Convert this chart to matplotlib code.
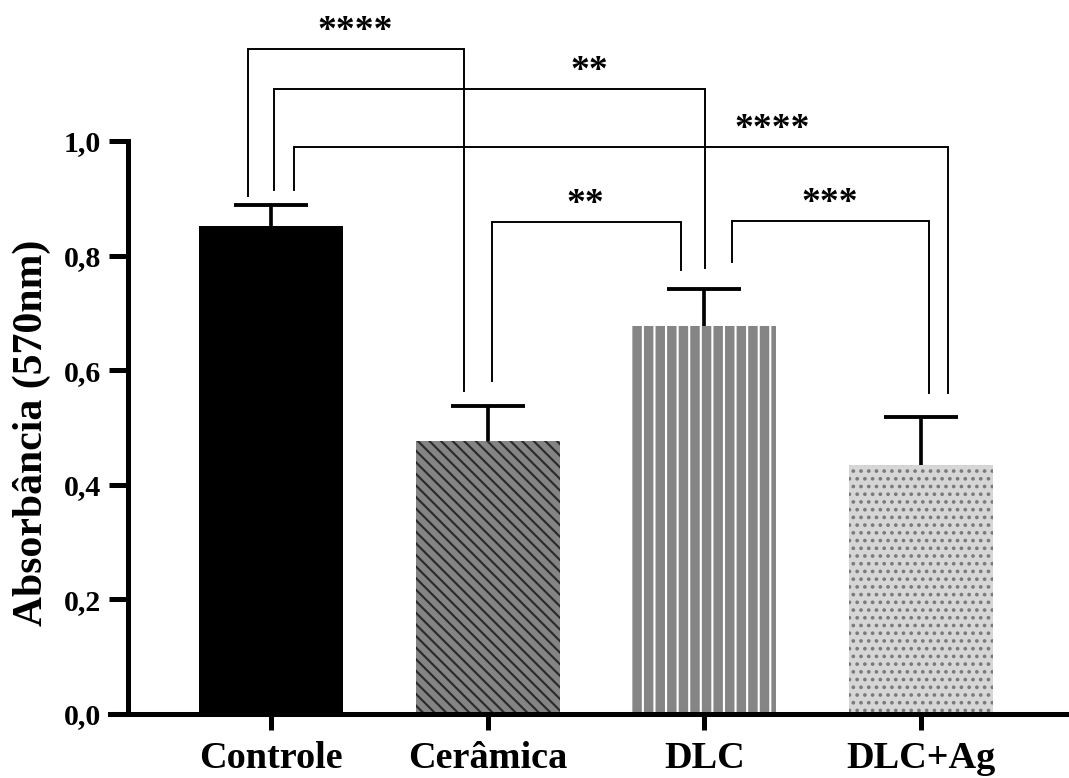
import matplotlib.pyplot as plt
import numpy as np

plt.rcParams['font.family'] = ['Liberation Serif', 'DejaVu Serif']
plt.rcParams['font.weight'] = 'bold'
plt.rcParams['hatch.linewidth'] = 1.1

# grupos e absorbância média ± DP
groups = ['Controle', 'Cerâmica', 'DLC', 'DLC+Ag']
means = [0.851, 0.477, 0.678, 0.435]
sds = [0.037, 0.060, 0.063, 0.084]

# comparações entre grupos (índices) e nível de significância
pairs = [(0, 1), (0, 2), (0, 3), (1, 2), (2, 3)]
stars = ['****', '**', '****', '**', '***']

# aparência das barras
face = ['black', '#848484', '#858585', '#d6d6d6']
hatch_col = ['black', '#2a2a2a', 'white', '#7a7a7a']
hatches = [None, '\\\\\\\\', '||', '...']

# geometria dos colchetes: deslocamento das pernas, altura, fim das pernas, posição do texto
brk_dx = [(-0.106, -0.111), (0.014, 0.004), (0.106, 0.126), (0.020, -0.107), (0.128, 0.038)]
brk_top = [1.161, 1.091, 0.990, 0.859, 0.861]
brk_ends = [(0.904, 0.564), (0.914, 0.778), (0.914, 0.560), (0.581, 0.775), (0.789, 0.560)]
txt_x = [0.388, 1.468, 2.313, 1.450, 2.581]

fig = plt.figure(figsize=(1069 / 139, 778 / 139), dpi=139)
ax = fig.add_axes([110 / 1069, 64 / 778, 959 / 1069, 714 / 778])

x = np.arange(len(groups))
bars = ax.bar(x, means, width=0.665, color=face, linewidth=0, zorder=1)
for b, h, hc in zip(bars, hatches, hatch_col):
    if h:
        b.set_hatch(h)
        b.set_edgecolor(hc)

# só a parte superior do erro
_, caps, _ = ax.errorbar(x, means, yerr=[np.zeros(len(sds)), sds], fmt='none', ecolor='black',
                         elinewidth=1.9, capsize=19, capthick=2.0, zorder=3)
caps[0].set_visible(False)

# colchetes de significância
for (i, j), s, (dl, dr), top, (el, er), tx in zip(pairs, stars, brk_dx, brk_top, brk_ends, txt_x):
    xl, xr = x[i] + dl, x[j] + dr
    ax.plot([xl, xl, xr, xr], [el, top, top, er], color='black', lw=1.0,
            solid_joinstyle='miter', clip_on=False, zorder=4)
    ax.text(tx, top + 0.014, s, ha='center', va='baseline', fontsize=19.5,
            fontweight='bold', color='black')

ax.set_xlim(-0.743, 3.684)
ax.set_ylim(0, 714 / 573)

for side in ['top', 'right']:
    ax.spines[side].set_visible(False)
ax.spines['left'].set_position(('data', -0.660))
ax.spines['left'].set_bounds(0, 1.0)
ax.spines['left'].set_linewidth(2.6)
ax.spines['bottom'].set_linewidth(2.6)

ax.set_yticks(np.arange(0, 1.01, 0.2))
ax.set_yticklabels([f'{v:.1f}'.replace('.', ',') for v in np.arange(0, 1.01, 0.2)])
ax.tick_params(axis='y', length=10, width=2.6, pad=4, labelsize=15.5)
ax.set_xticks(x)
ax.set_xticklabels(groups)
ax.tick_params(axis='x', length=8.3, width=2.6, pad=5.5, labelsize=19.8)

ax.set_ylabel('Absorbância (570nm)', fontsize=21.6, fontweight='bold')
ax.yaxis.set_label_coords(-0.062, 0.394)

fig.savefig('out.png', dpi=139)
